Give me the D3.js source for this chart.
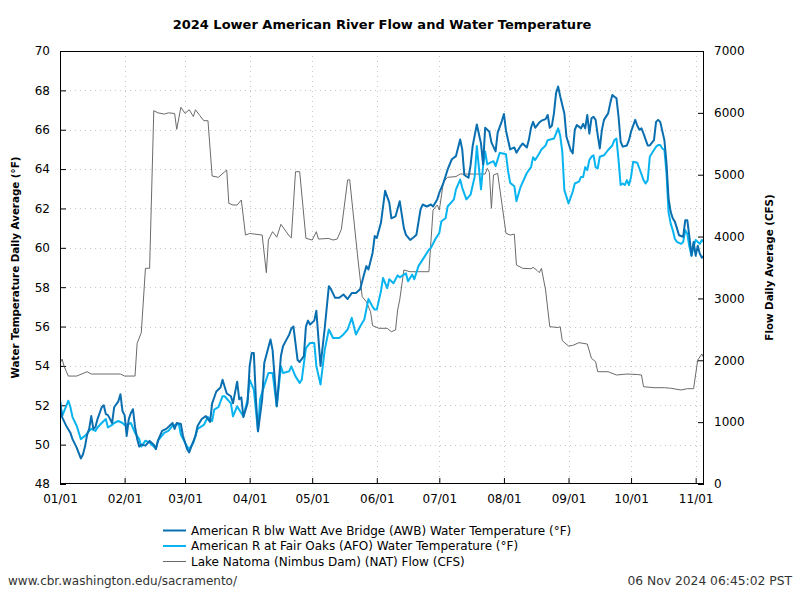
<!DOCTYPE html>
<html><head><meta charset="utf-8">
<script src="https://cdn.jsdelivr.net/npm/d3@7"></script>
<style>body{margin:0;background:#fff;} svg{display:block;font-family:"DejaVu Sans",sans-serif;}</style>
</head><body>
<svg id="c" width="800" height="600"></svg>
<script>
// ---- data (day index from 2024-01-01) ----
const titleText = "2024 Lower American River Flow and Water Temperature";
const xTickLabels = ["01/01","02/01","03/01","04/01","05/01","06/01","07/01","08/01","09/01","10/01","11/01"];
const tempTicks = [48,50,52,54,56,58,60,62,64,66,68,70];
const flowTicks = [0,1000,2000,3000,4000,5000,6000,7000];
const seriesNames = ["American R blw Watt Ave Bridge (AWB) Water Temperature (°F)","American R at Fair Oaks (AFO) Water Temperature (°F)","Lake Natoma (Nimbus Dam) (NAT) Flow (CFS)"];

const awbDays = [0,1,3,5,6,8,10,11,12,13,14,15,16,17,18,20,21,22,23,25,26,28,29,30,31,32,33,34,35,36,37,38,39,41,43,45,46,47,49,51,54,55,56,58,59,61,62,63,65,66,68,70,72,73,75,77,78,80,82,83,85,86,87,88,90,91,92,93,94,95,97,98,101,102,104,106,107,109,110,111,112,114,115,117,118,119,120,122,123,125,127,129,130,132,134,136,138,140,142,144,146,147,148,150,151,152,154,156,158,159,161,163,165,166,168,170,171,173,174,176,178,179,181,182,184,186,188,190,192,193,194,196,197,198,200,202,203,204,206,207,209,210,212,213,214,216,218,219,221,222,224,225,226,227,228,230,231,233,234,235,236,237,238,239,240,242,243,245,246,247,248,250,251,252,253,254,255,256,257,258,259,260,261,263,264,265,267,268,269,270,272,273,274,275,276,277,278,279,280,281,282,283,285,286,287,288,290,291,292,293,294,295,296,297,299,300,301,302,303,304,305,306,307,308,309];
const awbTemp = [52.2,51.4,50.95,50.6,50.28,49.85,49.3,49.5,49.9,50.5,50.8,51.45,50.8,50.9,51.3,51.9,52.0,51.55,51.5,51.1,51.9,52.2,52.56,51.7,51.5,50.44,51.3,51.6,51.8,50.9,50.3,49.9,50.0,49.95,50.19,50.0,49.77,50.2,50.7,50.8,51.1,50.8,51.1,51.05,50.44,49.77,49.6,49.9,50.44,50.95,51.3,51.45,51.15,52.1,52.7,52.9,53.3,52.6,52.46,52.1,53.2,52.3,52.4,51.4,52.1,54.0,54.66,54.66,52.3,50.68,52.3,54.15,55.34,54.8,51.95,54.5,55.0,55.4,55.6,55.9,56.0,54.3,54.2,54.5,56.0,56.3,56.1,56.3,56.8,54.0,55.9,58.05,57.9,57.46,57.46,57.63,57.4,57.7,57.7,57.9,58.7,59.07,58.9,59.75,60.6,60.5,61.27,62.9,62.3,61.5,61.6,62.37,61.0,60.66,60.4,60.56,60.66,61.95,62.2,62.1,62.2,62.1,62.46,62.8,63.3,63.98,64.5,64.66,65.5,65.0,63.7,63.56,64.2,65.17,66.27,65.3,64.24,66.1,65.9,65.36,64.9,65.85,66.44,66.8,65.95,65.0,65.1,64.83,65.17,65.3,65.1,65.5,66.1,66.4,66.1,66.37,66.46,66.54,66.75,66.1,66.2,66.83,67.85,68.2,67.7,66.83,65.64,64.97,64.8,66.0,66.24,66.07,66.3,66.07,66.75,65.8,66.58,66.66,66.5,65.73,65.05,65.98,66.5,66.83,67.34,67.76,67.6,66.66,65.4,65.14,65.2,65.47,65.9,66.2,66.5,66.2,66.0,66.07,65.8,65.5,65.2,65.2,65.47,66.4,66.5,66.4,65.47,64.3,62.5,61.83,61.5,61.33,61.0,60.64,60.56,61.4,61.4,60.56,59.6,60.3,59.6,60.1,59.7,59.5,59.6];

const afoDays = [0,1,2,4,5,6,8,10,12,14,15,17,18,20,22,23,25,26,28,30,31,33,34,36,38,39,41,43,46,47,50,52,54,57,58,61,62,64,66,69,71,73,74,76,78,79,82,83,85,87,88,90,91,93,95,96,98,100,102,104,106,107,110,111,113,115,116,118,120,122,123,125,127,129,131,134,136,138,140,142,144,146,148,150,151,152,154,155,157,158,160,162,163,165,166,167,169,170,172,174,177,178,180,182,183,185,186,189,190,192,193,195,197,199,200,202,203,204,205,206,208,209,211,212,214,215,216,218,219,221,224,226,227,228,230,231,233,234,237,238,239,240,241,242,243,244,246,247,249,250,251,252,253,254,255,256,257,258,259,261,263,265,266,267,268,269,270,271,272,273,274,275,277,278,280,281,282,283,284,286,287,288,289,290,291,292,293,294,295,296,298,299,300,301,302,303,304,305,307,308,309];
const afoTemp = [52.27,51.45,51.7,52.23,51.9,51.4,50.96,50.28,50.45,50.7,50.8,50.7,50.87,51.1,51.3,50.87,51.0,51.1,51.2,51.1,51.0,51.05,51.1,50.6,50.28,49.9,50.2,50.1,49.8,50.2,50.6,50.7,50.96,51.05,50.5,49.9,49.77,50.1,50.8,51.0,51.4,51.2,51.78,51.9,52.46,52.46,52.1,51.44,51.95,51.6,51.44,52.3,53.3,52.8,50.68,52.3,53.0,53.64,53.64,51.95,53.98,53.64,53.73,53.98,53.47,53.14,53.3,54.9,55.17,55.17,54.0,53.05,54.8,55.85,55.42,55.42,55.6,55.85,56.44,55.6,56.0,56.36,57.4,57.0,56.86,56.86,57.8,58.47,57.95,58.4,58.2,58.6,58.5,58.64,58.7,58.3,58.64,58.4,59.07,59.4,59.9,60.0,60.42,60.76,61.35,61.5,62.1,62.46,62.97,63.47,63.05,62.46,62.7,63.64,65.17,62.97,64.15,64.9,64.24,64.3,64.4,64.15,64.83,64.8,64.75,63.9,63.3,63.13,62.37,63.1,63.8,64.1,64.6,64.46,64.8,65.0,65.2,65.47,65.55,65.8,66.07,65.7,64.9,62.93,62.6,62.25,62.85,63.27,63.36,63.6,63.6,64.1,63.95,64.46,64.63,64.7,64.1,64.03,64.63,64.7,64.97,65.2,65.47,65.55,64.46,63.19,63.27,63.19,63.44,63.19,63.6,64.37,64.32,64.03,63.44,63.27,63.44,64.63,64.8,65.14,65.22,65.22,65.05,64.97,63.8,61.8,61.24,60.9,60.46,60.3,60.2,60.3,60.9,60.7,60.05,59.6,60.05,60.4,60.2,60.4,60.3];

const flowDays = [0,1,2,4,8,13,15,29,31,36,37,39,41,43,45,47,50,52,55,56,58,60,62,64,65,67,69,71,72,73,76,80,81,83,85,87,89,91,97,99,100,102,104,106,110,111,113,115,118,121,123,124,129,131,133,135,138,139,141,143,145,147,149,150,153,157,159,161,162,163,165,168,177,179,181,182,184,186,190,192,204,205,206,207,208,210,212,214,216,218,219,222,226,227,229,230,231,233,235,239,240,241,244,246,249,253,255,257,258,263,267,272,277,279,280,285,290,293,298,301,304,306,308,309];
const flowCfs = [1951,2020,1900,1745,1745,1815,1778,1778,1745,1745,2274,2446,3487,3487,6035,6000,5980,6000,5990,5733,6090,5990,6050,5940,6050,5960,5873,5873,5427,4979,4958,5076,4537,4510,4510,4591,4025,4050,4025,3416,3944,4079,3990,4198,4009,3980,5049,5049,3972,3944,4079,3960,3970,3944,3960,4117,4914,4920,4268,3621,3028,2947,2785,2560,2517,2517,2462,2490,2813,2974,3459,3432,3432,4429,4510,4429,4887,4958,4970,5011,5011,5103,5040,4457,4995,5022,4537,4052,4025,4040,3540,3487,3480,3503,3450,3416,3487,3136,2543,2530,2543,2317,2231,2240,2285,2263,2032,1977,1815,1815,1762,1778,1770,1762,1573,1557,1557,1548,1520,1541,1541,2005,2102,2032];

// ---- chart ----
const svg = d3.select("#c");
const M = {l:60, r:704, t:51, b:484};
const t0 = new Date(2024,0,1);
const dayDate = d => d3.timeDay.offset(t0, d);
const x = d3.scaleTime().domain([t0, new Date(2024,10,5)]).range([M.l, M.r]);
const yT = d3.scaleLinear().domain([48,70]).range([M.b, M.t]);
const yF = d3.scaleLinear().domain([0,7000]).range([M.b, M.t]);
const xTickDates = xTickLabels.map(s => new Date(2024, +s.slice(0,2)-1, +s.slice(3)));

// grid
const g = svg.append("g");
g.selectAll("line.vg").data(xTickDates.slice(1)).join("line")
  .attr("x1", d=>Math.round(x(d))+0.5).attr("x2", d=>Math.round(x(d))+0.5)
  .attr("y1", M.t).attr("y2", M.b)
  .attr("stroke","#c8c8c8").attr("stroke-dasharray","1,4");
g.selectAll("line.hg").data(tempTicks.slice(1,-1)).join("line")
  .attr("y1", d=>Math.round(yT(d))+0.5).attr("y2", d=>Math.round(yT(d))+0.5)
  .attr("x1", M.l).attr("x2", M.r)
  .attr("stroke","#c8c8c8").attr("stroke-dasharray","1,4");

// axes
const ax = svg.append("g").attr("transform",`translate(0,${M.b})`)
  .call(d3.axisBottom(x).tickValues(xTickDates).tickFormat((d,i)=>xTickLabels[i]).tickSizeInner(-6).tickSizeOuter(0).tickPadding(10));
const al = svg.append("g").attr("transform",`translate(${M.l},0)`)
  .call(d3.axisLeft(yT).tickValues(tempTicks).tickFormat(d3.format("d")).tickSizeInner(-6).tickSizeOuter(0).tickPadding(10));
const ar = svg.append("g").attr("transform",`translate(${M.r},0)`)
  .call(d3.axisRight(yF).tickValues(flowTicks).tickFormat(d3.format("d")).tickSizeInner(-6).tickSizeOuter(0).tickPadding(10));
[ax,al,ar].forEach(a=>{
  a.select(".domain").remove();
  a.selectAll("text").attr("font-size",12).attr("fill","#000").attr("font-family","DejaVu Sans");
  a.selectAll("line").attr("stroke","#000");
});

// lines
const lineT = d3.line().x(d=>x(dayDate(d[0]))).y(d=>yT(d[1]));
const lineF = d3.line().x(d=>x(dayDate(d[0]))).y(d=>yF(d[1]));
const flowData = flowDays.map((d,i)=>[d,flowCfs[i]]);
const awbData = awbDays.map((d,i)=>[d,awbTemp[i]]);
const afoData = afoDays.map((d,i)=>[d,afoTemp[i]]);
const colors = ["#0a6fb0","#08b4f0","#6b6b6b"];
svg.append("clipPath").attr("id","pc").append("rect").attr("x",M.l).attr("y",M.t).attr("width",M.r-M.l).attr("height",M.b-M.t);
const lg = svg.append("g").attr("clip-path","url(#pc)");
lg.append("path").datum(flowData).attr("d",lineF).attr("fill","none").attr("stroke",colors[2]).attr("stroke-width",1);
lg.append("path").datum(afoData).attr("d",lineT).attr("fill","none").attr("stroke",colors[1]).attr("stroke-width",2).attr("stroke-linejoin","round");
lg.append("path").datum(awbData).attr("d",lineT).attr("fill","none").attr("stroke",colors[0]).attr("stroke-width",2).attr("stroke-linejoin","round");

// frame
svg.append("rect").attr("x",M.l+0.5).attr("y",M.t+0.5).attr("width",M.r-M.l-1).attr("height",M.b-M.t-1)
  .attr("fill","none").attr("stroke","#000").attr("stroke-width",1);

// title & labels
svg.append("text").attr("x",(M.l+M.r)/2).attr("y",29).attr("text-anchor","middle")
  .attr("font-size",13).attr("font-weight","bold").text(titleText);
svg.append("text").attr("transform",`translate(19,${(M.t+M.b)/2}) rotate(-90)`).attr("text-anchor","middle")
  .attr("font-size",10.3).attr("font-weight","bold").text("Water Temperature Daily Average (°F)");
svg.append("text").attr("transform",`translate(773,${(M.t+M.b)/2}) rotate(-90)`).attr("text-anchor","middle")
  .attr("font-size",10.3).attr("font-weight","bold").text("Flow Daily Average (CFS)");

// legend
const leg = svg.append("g");
seriesNames.forEach((n,i)=>{
  const yy = 530.5 + i*15.5;
  leg.append("line").attr("x1",163).attr("x2",186).attr("y1",yy).attr("y2",yy)
    .attr("stroke",colors[i]).attr("stroke-width", i<2?2:1);
  leg.append("text").attr("x",191).attr("y",yy+4).attr("font-size",12).attr("fill","#000").text(n);
});

// footer
svg.append("text").attr("x",8).attr("y",585).attr("font-size",12).attr("fill","#333").text("www.cbr.washington.edu/sacramento/");
svg.append("text").attr("x",792).attr("y",585).attr("text-anchor","end").attr("font-size",12.3).attr("fill","#333").text("06 Nov 2024 06:45:02 PST");
</script>
</body></html>
